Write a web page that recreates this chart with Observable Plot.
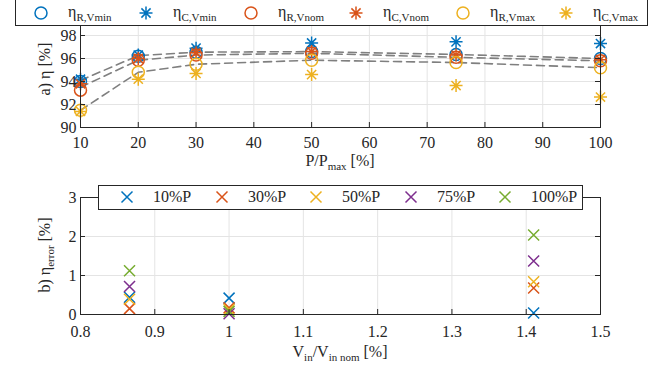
<!DOCTYPE html>
<html>
<head>
<meta charset="utf-8">
<script src="https://cdn.jsdelivr.net/npm/d3@7"></script>
<script src="https://cdn.jsdelivr.net/npm/@observablehq/plot@0.6"></script>
<style>
  html, body { margin: 0; padding: 0; background: #fff; }
  #root { position: relative; width: 667px; height: 368px; overflow: hidden; font-family: "Liberation Serif", "Times New Roman", serif; color: #262626; }
  #root svg.plot { position: absolute; left: 0; }
  #root svg.plot text { font-family: "Liberation Serif", "Times New Roman", serif; }
  .lab { position: absolute; white-space: nowrap; font-size: 16px; line-height: 1; }
  .lab sub, .leg sub { font-size: 11px; vertical-align: -4px; line-height: 0; }
  .legbox { position: absolute; background: #fff; border: 1px solid #262626; box-sizing: border-box; }
  .leg { position: absolute; white-space: nowrap; font-size: 16px; line-height: 1; }
  .sym { position: absolute; }
</style>
</head>
<body>
<div id="root"></div>
<script>
// ---------- data: panel a ----------
const powerPct = [10, 20, 30, 50, 75, 100];
const etaR_Vmin = [94.0, 96.2, 96.55, 96.6, 96.35, 96.0];
const etaC_Vmin = [94.2, 96.3, 96.9, 97.35, 97.45, 97.3];
const etaR_Vnom = [93.25, 95.85, 96.3, 96.45, 96.1, 95.8];
const etaC_Vnom = [93.8, 96.0, 96.5, 96.6, 96.3, 95.9];
const etaR_Vmax = [91.5, 94.8, 95.5, 95.85, 95.65, 95.2];
const etaC_Vmax = [91.4, 94.2, 94.7, 94.6, 93.65, 92.65];
// dashed trend lines
const trend_Vmin = [94.1, 96.25, 96.55, 96.6, 96.35, 96.0];
const trend_Vnom = [93.5, 95.85, 96.3, 96.45, 96.1, 95.8];
const trend_Vmax = [91.5, 94.8, 95.5, 95.85, 95.65, 95.2];
const xTicksA = [10, 20, 30, 40, 50, 60, 70, 80, 90, 100];
const yTicksA = [90, 92, 94, 96, 98, 100];
const legendA = ["R,Vmin", "C,Vmin", "R,Vnom", "C,Vnom", "R,Vmax", "C,Vmax"];

// ---------- data: panel b ----------
const vRatio = [0.866, 1.0, 1.41];
const err10 = [0.44, 0.42, 0.04];
const err30 = [0.15, 0.17, 0.68];
const err50 = [0.39, 0.13, 0.84];
const err75 = [0.72, 0.02, 1.37];
const err100 = [1.12, 0.08, 2.04];
const xTicksB = [0.8, 0.9, 1.0, 1.1, 1.2, 1.3, 1.4, 1.5];
const yTicksB = [0, 1, 2, 3];
const legendB = ["10%P", "30%P", "50%P", "75%P", "100%P"];

const C = ["#0072BD", "#D95319", "#EDB120", "#7E2F8E", "#77AC30"];
const AX = "#262626";
const GRID = "#e4e4e4";
const FONT = "Liberation Serif";

// custom symbols (MATLAB-like)
const asterisk8 = { draw(ctx, size) { const r = Math.sqrt(size / Math.PI); const d = r * Math.SQRT1_2;
  ctx.moveTo(-r, 0); ctx.lineTo(r, 0); ctx.moveTo(0, -r); ctx.lineTo(0, r);
  ctx.moveTo(-d, -d); ctx.lineTo(d, d); ctx.moveTo(-d, d); ctx.lineTo(d, -d); } };
const timesSym = { draw(ctx, size) { const r = Math.sqrt(size / Math.PI);
  ctx.moveTo(-r, -r); ctx.lineTo(r, r); ctx.moveTo(-r, r); ctx.lineTo(r, -r); } };

const root = document.getElementById("root");

// ---------- panel a ----------
const tA = powerPct.map((p, i) => ({p, i}));
const seriesA = [
  {vals: etaR_Vmin, color: C[0], sym: "circle"},
  {vals: etaC_Vmin, color: C[0], sym: asterisk8},
  {vals: etaR_Vnom, color: C[1], sym: "circle"},
  {vals: etaC_Vnom, color: C[1], sym: asterisk8},
  {vals: etaR_Vmax, color: C[2], sym: "circle"},
  {vals: etaC_Vmax, color: C[2], sym: asterisk8}
];
const trends = [trend_Vmin, trend_Vnom, trend_Vmax];
const hA = 180, mtA = 12, mbA = 53, mlA = 80, mrA = 67;
const fhA = hA - mtA - mbA, fwA = 667 - mlA - mrA;

const plotA = Plot.plot({
  width: 667, height: hA, marginTop: mtA, marginBottom: mbA, marginLeft: mlA, marginRight: mrA,
  x: {domain: [10, 100]}, y: {domain: [90, 100]},
  style: {fontFamily: FONT, fontSize: "16px", color: AX, background: "transparent", overflow: "visible"},
  marks: [
    Plot.ruleX(xTicksA, {x: d => d, stroke: GRID, strokeWidth: 1}),
    Plot.ruleY(yTicksA, {y: d => d, stroke: GRID, strokeWidth: 1}),
    ...trends.map(t => Plot.line(tA, {x: "p", y: d => t[d.i], stroke: "#7f7f7f", strokeWidth: 1.6, strokeDasharray: "8,5"})),
    ...seriesA.map(s => Plot.dot(tA, {x: "p", y: d => s.vals[d.i], symbol: s.sym, r: s.sym === "circle" ? 6 : 6.5, stroke: s.color, fill: "none", strokeWidth: 1.5})),
    Plot.frame({stroke: AX, strokeWidth: 1}),
    Plot.tickX(xTicksA, {x: d => d, stroke: AX, insetTop: fhA - 5}),
    Plot.tickX(xTicksA, {x: d => d, stroke: AX, insetBottom: fhA - 5}),
    Plot.tickY(yTicksA, {y: d => d, stroke: AX, insetRight: fwA - 5}),
    Plot.tickY(yTicksA, {y: d => d, stroke: AX, insetLeft: fwA - 5}),
    Plot.axisX(xTicksA, {tickSize: 0, tickPadding: 9, label: null, fontSize: 16, fontFamily: FONT}),
    Plot.axisY(yTicksA.filter(v => v < 100), {tickSize: 0, tickPadding: 4, label: null, fontSize: 16, fontFamily: FONT})
  ]
});
plotA.classList.add("plot");
plotA.style.top = "0px";
root.appendChild(plotA);

// ---------- panel b ----------
const tB = vRatio.map((v, i) => ({v, i}));
const seriesB = [err10, err30, err50, err75, err100];
const topB = 180, hB = 188, mtB = 17, mbB = 54, mlB = 80, mrB = 67;
const fhB = hB - mtB - mbB, fwB = 667 - mlB - mrB;
const plotB = Plot.plot({
  width: 667, height: hB, marginTop: mtB, marginBottom: mbB, marginLeft: mlB, marginRight: mrB,
  x: {domain: [0.8, 1.5]}, y: {domain: [0, 3]},
  style: {fontFamily: FONT, fontSize: "16px", color: AX, background: "transparent", overflow: "visible"},
  marks: [
    Plot.ruleX(xTicksB, {x: d => d, stroke: GRID, strokeWidth: 1}),
    Plot.ruleY(yTicksB, {y: d => d, stroke: GRID, strokeWidth: 1}),
    ...seriesB.map((s, k) => Plot.dot(tB, {x: "v", y: d => s[d.i], symbol: timesSym, r: 5.5, stroke: C[k], fill: "none", strokeWidth: 1.5})),
    Plot.frame({stroke: AX, strokeWidth: 1}),
    Plot.tickX(xTicksB, {x: d => d, stroke: AX, insetTop: fhB - 5}),
    Plot.tickX(xTicksB, {x: d => d, stroke: AX, insetBottom: fhB - 5}),
    Plot.tickY(yTicksB, {y: d => d, stroke: AX, insetRight: fwB - 5}),
    Plot.tickY(yTicksB, {y: d => d, stroke: AX, insetLeft: fwB - 5}),
    Plot.axisX(xTicksB, {tickSize: 0, tickPadding: 11, label: null, fontSize: 16, fontFamily: FONT, tickFormat: d => String(+d.toFixed(1))}),
    Plot.axisY(yTicksB, {tickSize: 0, tickPadding: 4, label: null, fontSize: 16, fontFamily: FONT})
  ]
});
plotB.classList.add("plot");
plotB.style.top = topB + "px";
root.appendChild(plotB);

// ---------- labels ----------
function addLabel(html, x, y, rotate) {
  const d = document.createElement("div");
  d.className = "lab";
  d.innerHTML = html;
  d.style.left = x + "px";
  d.style.top = y + "px";
  d.style.transform = "translate(-50%,-50%)" + (rotate ? " rotate(-90deg)" : "");
  root.appendChild(d);
}
addLabel("P/P<sub>max</sub> [%]", 340, 161, false);
addLabel("V<sub>in</sub>/V<sub>in nom</sub> [%]", 340, 352, false);
addLabel("a) η [%]", 45, 69, true);
addLabel("b) η<sub>error</sub> [%]", 45, 255, true);

// ---------- legends ----------
function symSvg(kind, color) {
  const s = 16, c = 8;
  let p = "";
  if (kind === "circle") p = `<circle cx="${c}" cy="${c}" r="6" fill="none" stroke="${color}" stroke-width="1.5"/>`;
  else if (kind === "asterisk") {
    const r = 6.5, d = r * Math.SQRT1_2;
    p = `<path d="M${c-r},${c}L${c+r},${c}M${c},${c-r}L${c},${c+r}M${c-d},${c-d}L${c+d},${c+d}M${c-d},${c+d}L${c+d},${c-d}" stroke="${color}" stroke-width="1.5" fill="none"/>`;
  } else {
    const r = 5.5;
    p = `<path d="M${c-r},${c-r}L${c+r},${c+r}M${c-r},${c+r}L${c+r},${c-r}" stroke="${color}" stroke-width="1.5" fill="none"/>`;
  }
  return `<svg width="${s}" height="${s}" viewBox="0 0 ${s} ${s}">${p}</svg>`;
}
function addBox(x, y, w, h) {
  const b = document.createElement("div");
  b.className = "legbox";
  Object.assign(b.style, {left: x + "px", top: y + "px", width: w + "px", height: h + "px"});
  root.appendChild(b);
}
function addItem(symHtml, sx, sy, textHtml, tx, ty) {
  const s = document.createElement("div");
  s.className = "sym"; s.innerHTML = symHtml;
  Object.assign(s.style, {left: (sx - 8) + "px", top: (sy - 8) + "px", width: "16px", height: "16px"});
  root.appendChild(s);
  const t = document.createElement("div");
  t.className = "leg"; t.innerHTML = textHtml;
  Object.assign(t.style, {left: tx + "px", top: ty + "px", transform: "translateY(-50%)"});
  root.appendChild(t);
}
// top legend
addBox(15, -2, 633, 28);
const symXA = [41, 146, 251, 356, 463, 566];
legendA.forEach((lab, i) => {
  const color = C[Math.floor(i / 2)];
  addItem(symSvg(i % 2 === 0 ? "circle" : "asterisk", color), symXA[i], 13,
    `η<sub>${lab}</sub>`, symXA[i] + 27, 12);
});
// bottom legend
addBox(98, 185, 485, 25);
const symXB = [127, 222, 316, 411, 505];
legendB.forEach((lab, i) => {
  addItem(symSvg("times", C[i]), symXB[i], 197, lab, symXB[i] + 26, 197);
});
</script>
</body>
</html>
